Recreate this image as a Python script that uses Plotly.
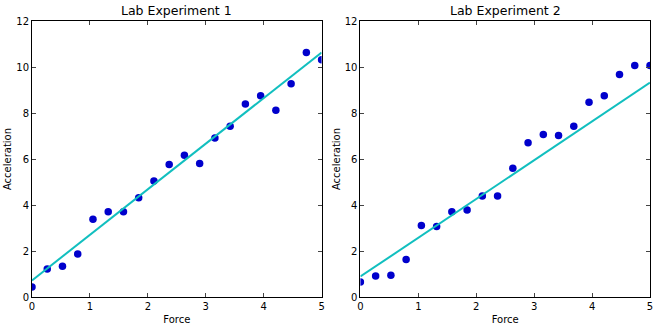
import numpy as np
import plotly.graph_objects as go
from plotly.subplots import make_subplots

# Measured force values (shared by both experiments)
force = np.linspace(0, 5, 20)

# Measured accelerations
accel_exp1 = [0.43, 1.22, 1.34, 1.87, 3.38, 3.71, 3.71, 4.32, 5.04, 5.76,
              6.16, 5.80, 6.91, 7.42, 8.39, 8.75, 8.12, 9.27, 10.63, 10.32]
accel_exp2 = [0.65, 0.91, 0.95, 1.63, 3.11, 3.06, 3.71, 3.78, 4.39, 4.39,
              5.60, 6.71, 7.06, 7.02, 7.42, 8.47, 8.75, 9.67, 10.07, 10.07]

# Linear model lines: (intercept, slope)
model_exp1 = (0.72, 1.982)
model_exp2 = (0.89, 1.686)

titles = ["Lab Experiment 1", "Lab Experiment 2"]
x_ticks = [0, 1, 2, 3, 4, 5]
y_ticks = [0, 2, 4, 6, 8, 10, 12]

fig = make_subplots(rows=1, cols=2, horizontal_spacing=0.0628,
                    subplot_titles=titles)

font = "DejaVu Sans, Liberation Sans, sans-serif"
xs = np.array([0.0, 5.0])
for i, (acc, (b0, b1)) in enumerate([(accel_exp1, model_exp1),
                                     (accel_exp2, model_exp2)], start=1):
    fig.add_trace(go.Scatter(x=force, y=acc, mode="markers",
                             marker=dict(color="#0000cc", size=7.5, line=dict(width=0)),
                             showlegend=False), row=1, col=i)
    fig.add_trace(go.Scatter(x=xs, y=b0 + b1 * xs, mode="lines",
                             line=dict(color="#11bfbf", width=2),
                             showlegend=False), row=1, col=i)
    fig.update_xaxes(range=[0, 5], tickvals=x_ticks, ticks="inside", ticklen=4,
                     mirror="ticks", showline=True, linecolor="black", linewidth=1,
                     showgrid=False, zeroline=False, title_text="Force",
                     title_standoff=4, title_font=dict(size=10),
                     tickfont=dict(size=10), row=1, col=i)
    fig.update_yaxes(range=[0, 12], tickvals=y_ticks, ticks="inside", ticklen=4,
                     mirror="ticks", showline=True, linecolor="black", linewidth=1,
                     showgrid=False, zeroline=False, title_text="Acceleration",
                     title_standoff=2, title_font=dict(size=10),
                     tickfont=dict(size=10), row=1, col=i)

for ann in fig.layout.annotations:
    ann.font = dict(size=12.5, color="black", family=font)
    ann.yshift = 1

fig.update_layout(width=660, height=330, margin=dict(l=32, r=7, t=21, b=30),
                  plot_bgcolor="white", paper_bgcolor="white",
                  font=dict(family=font, color="black", size=10))

fig.write_html("out.html")
